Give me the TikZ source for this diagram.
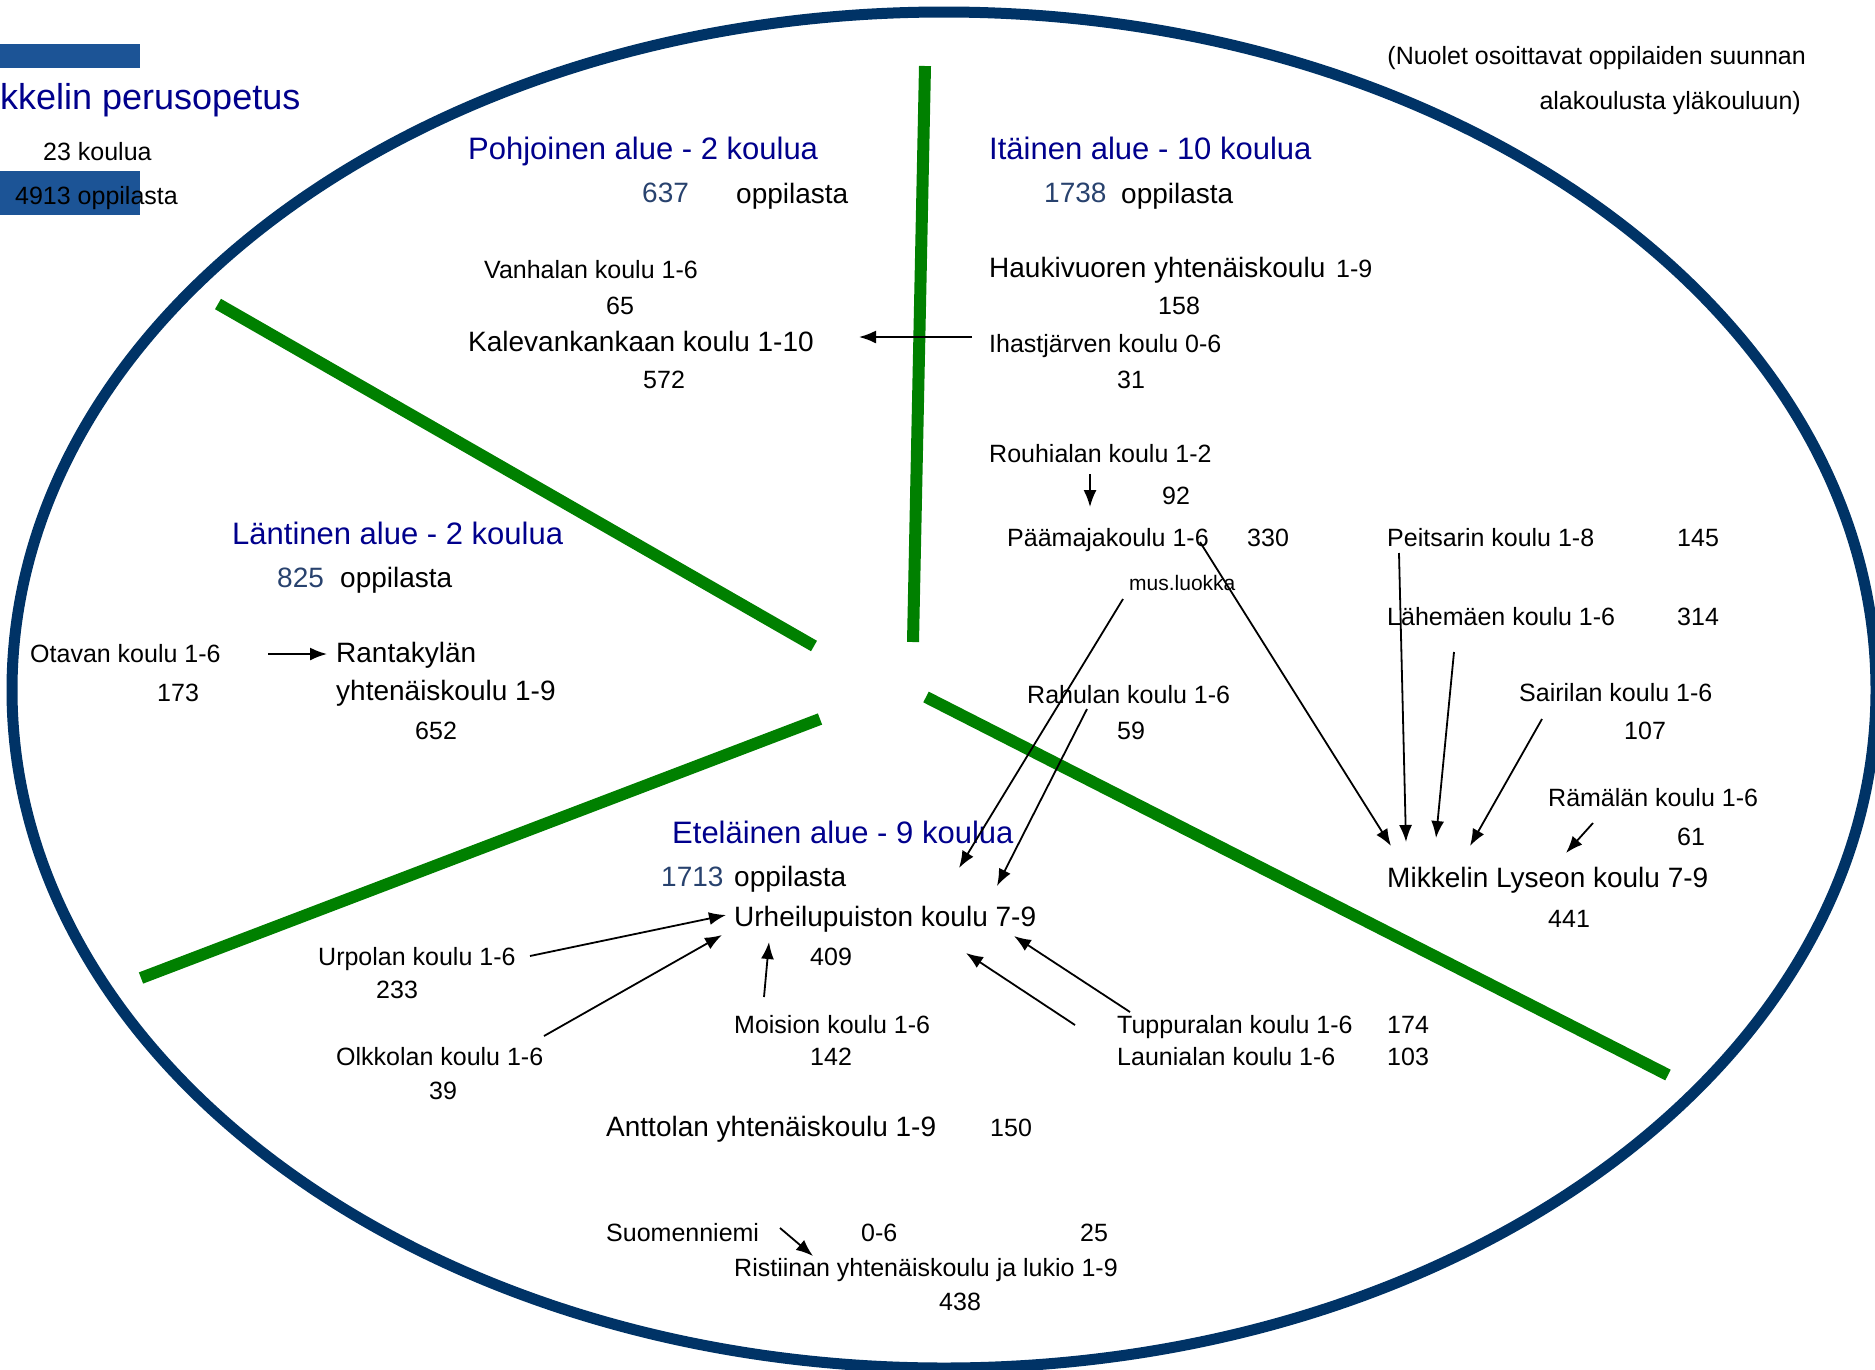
\documentclass[tikz,border=0pt]{standalone}
\usepackage{fontspec}
\setmainfont{Liberation Sans}
\usetikzlibrary{arrows.meta}
\definecolor{ringblue}{RGB}{0,51,102}
\definecolor{splitgreen}{RGB}{0,128,0}
\definecolor{headblue}{RGB}{0,0,140}
\definecolor{numblue}{RGB}{40,66,110}
\definecolor{barblue}{RGB}{28,84,150}
\begin{document}
\begin{tikzpicture}[x=1pt, y=-1pt,
  txt/.style={anchor=west, inner sep=0pt, yshift=-7pt, text height=0.72em, text depth=0.2em, font=\fontsize{25}{30}\selectfont},
  big/.style={txt, font=\fontsize{28}{34}\selectfont},
  head/.style={txt, font=\fontsize{31}{37}\selectfont, text=headblue},
  num/.style={big, text=numblue},
  flow/.style={-{Latex[length=17pt,width=13pt]}, line width=1.8pt},
  border/.style={line width=11pt, draw=ringblue},
  split/.style={line width=12pt, draw=splitgreen}]
\useasboundingbox (0,0) rectangle (1875,1369);
\draw[border] (944,690) ellipse [x radius=932, y radius=678];
% sector borders
\draw[split] (925,66) -- (913,642);
\draw[split] (218,304) -- (814,646);
\draw[split] (141,978) -- (820,719);
\draw[split] (926,697) -- (1668,1075);
% title block
\fill[barblue] (0,44) rectangle (140,68);
\fill[barblue] (0,171) rectangle (140,215);
\node (title)[txt, font=\fontsize{36}{42}\selectfont, text=headblue] at (0,100) {kkelin perusopetus};
\node (total-k)[txt] at (43,151) {23 koulua};
\node (total-o)[txt] at (15,195) {4913 oppilasta};
\node (note1)[txt, anchor=east] at (1806,55) {(Nuolet osoittavat oppilaiden suunnan};
\node (note2)[txt, anchor=east] at (1801,100) {alakoulusta yläkouluun)};
% north
\node (north)[head] at (468,150) {Pohjoinen alue - 2 koulua};
\node (north-n)[num] at (642,193) {637};
\node (north-o)[big] at (736,194) {oppilasta};
\node (vanhala)[txt] at (484,269) {Vanhalan koulu 1-6};
\node (vanhala-n)[txt] at (606,305) {65};
\node (kaleva)[big] at (468,342) {Kalevankankaan koulu 1-10};
\node (kaleva-n)[txt] at (643,379) {572};
% east
\node (east)[head] at (989,150) {Itäinen alue - 10 koulua};
\node (east-n)[num] at (1044,193) {1738};
\node (east-o)[big] at (1121,194) {oppilasta};
\node (hauki)[big] at (989,268) {Haukivuoren yhtenäiskoulu};
\node (hauki-l)[txt] at (1336,268) {1-9};
\node (hauki-n)[txt] at (1158,305) {158};
\node (ihast)[txt] at (989,343) {Ihastjärven koulu 0-6};
\node (ihast-n)[txt] at (1117,379) {31};
\node (rouhiala)[txt] at (989,453) {Rouhialan koulu 1-2};
\node (rouhiala-n)[txt] at (1162,495) {92};
\node (paamaja)[txt] at (1007,537) {Päämajakoulu 1-6};
\node (paamaja-n)[txt] at (1247,537) {330};
\node (mus)[txt, font=\fontsize{21}{25}\selectfont] at (1129,581) {mus.luokka};
\node (peitsari)[txt] at (1387,537) {Peitsarin koulu 1-8};
\node (peitsari-n)[txt] at (1677,537) {145};
\node (lahemaki)[txt] at (1387,616) {Lähemäen koulu 1-6};
\node (lahemaki-n)[txt] at (1677,616) {314};
\node (sairila)[txt] at (1519,692) {Sairilan koulu 1-6};
\node (sairila-n)[txt] at (1624,730) {107};
\node (ramala)[txt] at (1548,797) {Rämälän koulu 1-6};
\node (ramala-n)[txt] at (1677,836) {61};
\node (lyseo)[big] at (1387,878) {Mikkelin Lyseon koulu 7-9};
\node (lyseo-n)[txt] at (1548,918) {441};
% west
\node (west)[head] at (232,535) {Läntinen alue - 2 koulua};
\node (west-n)[num] at (277,578) {825};
\node (west-o)[big] at (340,578) {oppilasta};
\node (otava)[txt] at (30,653) {Otavan koulu 1-6};
\node (otava-n)[txt] at (157,692) {173};
\node (ranta)[big] at (336,653) {Rantakylän};
\node (ranta-l)[big] at (336,691) {yhtenäiskoulu 1-9};
\node (ranta-n)[txt] at (415,730) {652};
% south
\node (south)[head] at (672,834) {Eteläinen alue - 9 koulua};
\node (south-n)[num] at (661,877) {1713};
\node (south-o)[big] at (734,877) {oppilasta};
\node (urheilu)[big] at (734,917) {Urheilupuiston koulu 7-9};
\node (urheilu-n)[txt] at (810,956) {409};
\node (rahula)[txt] at (1027,694) {Rahulan koulu 1-6};
\node (rahula-n)[txt] at (1117,730) {59};
\node (urpola)[txt] at (318,956) {Urpolan koulu 1-6};
\node (urpola-n)[txt] at (376,989) {233};
\node (olkkola)[txt] at (336,1056) {Olkkolan koulu 1-6};
\node (olkkola-n)[txt] at (429,1090) {39};
\node (moisio)[txt] at (734,1024) {Moision koulu 1-6};
\node (moisio-n)[txt] at (810,1056) {142};
\node (tuppura)[txt] at (1117,1024) {Tuppuralan koulu 1-6};
\node (tuppura-n)[txt] at (1387,1024) {174};
\node (launiala)[txt] at (1117,1056) {Launialan koulu 1-6};
\node (launiala-n)[txt] at (1387,1056) {103};
\node (anttola)[big] at (606,1127) {Anttolan yhtenäiskoulu 1-9};
\node (anttola-n)[txt] at (990,1127) {150};
\node (suomen)[txt] at (606,1232) {Suomenniemi};
\node (suomen-l)[txt] at (861,1232) {0-6};
\node (suomen-n)[txt] at (1080,1232) {25};
\node (ristiina)[txt] at (734,1267) {Ristiinan yhtenäiskoulu ja lukio 1-9};
\node (ristiina-n)[txt] at (939,1301) {438};
% arrow ends
\coordinate (ihast-out) at (972,337);
\coordinate (kaleva-in) at (859,337);
\coordinate (rouhiala-out) at (1090,474);
\coordinate (paamaja-in) at (1090,507);
\coordinate (otava-out) at (268,654);
\coordinate (ranta-in) at (327,654);
\coordinate (paamaja-out) at (1200,542);
\coordinate (lyseo-in1) at (1391,846);
\coordinate (peitsari-out) at (1399,553);
\coordinate (lyseo-in2) at (1406,842);
\coordinate (lahemaki-out) at (1454,652);
\coordinate (lyseo-in3) at (1436,838);
\coordinate (sairila-out) at (1542,719);
\coordinate (lyseo-in4) at (1470,846);
\coordinate (ramala-out) at (1593,823);
\coordinate (lyseo-in5) at (1566,853);
\coordinate (mus-out) at (1123,599);
\coordinate (urheilu-in1) at (959,868);
\coordinate (rahula-out) at (1087,709);
\coordinate (urheilu-in2) at (997,886);
\coordinate (urpola-out) at (530,956);
\coordinate (urheilu-in3) at (726,915);
\coordinate (olkkola-out) at (544,1036);
\coordinate (urheilu-in4) at (722,935);
\coordinate (moisio-out) at (764,997);
\coordinate (urheilu-in5) at (769,942);
\coordinate (launiala-out) at (1075,1025);
\coordinate (urheilu-in6) at (966,953);
\coordinate (tuppura-out) at (1130,1012);
\coordinate (urheilu-in7) at (1014,936);
\coordinate (suomen-out) at (780,1228);
\coordinate (ristiina-in) at (813,1256);
% flows
\draw[flow] (ihast-out) -- (kaleva-in);
\draw[flow] (rouhiala-out) -- (paamaja-in);
\draw[flow] (otava-out) -- (ranta-in);
\draw[flow] (paamaja-out) -- (lyseo-in1);
\draw[flow] (peitsari-out) -- (lyseo-in2);
\draw[flow] (lahemaki-out) -- (lyseo-in3);
\draw[flow] (sairila-out) -- (lyseo-in4);
\draw[flow] (ramala-out) -- (lyseo-in5);
\draw[flow] (mus-out) -- (urheilu-in1);
\draw[flow] (rahula-out) -- (urheilu-in2);
\draw[flow] (urpola-out) -- (urheilu-in3);
\draw[flow] (olkkola-out) -- (urheilu-in4);
\draw[flow] (moisio-out) -- (urheilu-in5);
\draw[flow] (launiala-out) -- (urheilu-in6);
\draw[flow] (tuppura-out) -- (urheilu-in7);
\draw[flow] (suomen-out) -- (ristiina-in);
\end{tikzpicture}
\end{document}
